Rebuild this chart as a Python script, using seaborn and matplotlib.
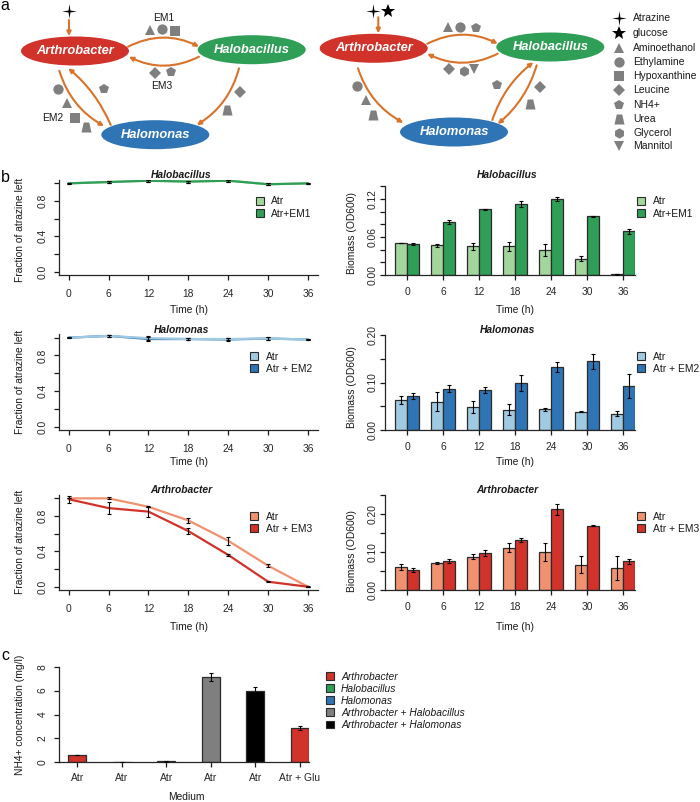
#!/usr/bin/env python3
"""Atrazine degradation figure: schematic (a), time courses (b), NH4+ bars (c)."""
from matplotlib import pyplot as plt
from matplotlib.patches import Ellipse, FancyArrowPatch, Patch
from matplotlib.path import Path
import numpy as np
import pandas as pd
import seaborn as sns

W, H = 700, 802

TIME = [0, 6, 12, 18, 24, 30, 36]

# panel b, fraction of atrazine left
halobacillus_atr = [1.0, 1.015, 1.03, 1.02, 1.03, 0.99, 1.0]
halobacillus_em1 = [1.0, 1.015, 1.03, 1.02, 1.03, 0.99, 1.0]
halobacillus_left_err = [0.003, 0.012, 0.012, 0.012, 0.01, 0.012, 0.005]
halomonas_atr = [1.0, 1.02, 0.995, 0.985, 0.985, 0.99, 0.98]
halomonas_em2 = [1.0, 1.02, 0.985, 0.985, 0.98, 0.99, 0.98]
halomonas_left_err = [0.003, 0.012, 0.025, 0.015, 0.012, 0.02, 0.005]
arthrobacter_atr = [1.0, 1.0, 0.905, 0.75, 0.52, 0.238, 0.0]
arthrobacter_atr_err = [0.0, 0.012, 0.0, 0.025, 0.045, 0.015, 0.003]
arthrobacter_em3 = [0.99, 0.89, 0.85, 0.63, 0.36, 0.057, 0.0]
arthrobacter_em3_err = [0.04, 0.065, 0.065, 0.03, 0.008, 0.008, 0.002]

# panel b, biomass
bio_halobacillus_atr = [0.05, 0.047, 0.045, 0.045, 0.039, 0.026, 0.001]
bio_halobacillus_atr_err = [0.0, 0.0025, 0.005, 0.0075, 0.0092, 0.0045, 0.0005]
bio_halobacillus_em1 = [0.0495, 0.0837, 0.1037, 0.112, 0.12, 0.0926, 0.069]
bio_halobacillus_em1_err = [0.0015, 0.003, 0.0012, 0.005, 0.0035, 0.0012, 0.0035]
bio_halomonas_atr = [0.0625, 0.06, 0.048, 0.043, 0.0435, 0.038, 0.034]
bio_halomonas_atr_err = [0.0085, 0.02, 0.013, 0.012, 0.0025, 0.001, 0.005]
bio_halomonas_em2 = [0.0715, 0.087, 0.084, 0.0995, 0.1325, 0.1445, 0.092]
bio_halomonas_em2_err = [0.0065, 0.0075, 0.007, 0.017, 0.0105, 0.0165, 0.025]
bio_arthrobacter_atr = [0.062, 0.072, 0.088, 0.111, 0.10, 0.067, 0.058]
bio_arthrobacter_atr_err = [0.008, 0.003, 0.0065, 0.012, 0.023, 0.0225, 0.031]
bio_arthrobacter_em3 = [0.053, 0.077, 0.098, 0.131, 0.212, 0.169, 0.0755]
bio_arthrobacter_em3_err = [0.005, 0.0055, 0.008, 0.0055, 0.014, 0.0015, 0.0065]

# panel c
cultures = ["Arthrobacter", "Halobacillus", "Halomonas",
            "Arthrobacter + Halobacillus", "Arthrobacter + Halomonas",
            "Arthrobacter (Glu)"]
media = ["Atr", "Atr", "Atr", "Atr", "Atr", "Atr + Glu"]
nh4 = [0.6, 0.03, 0.07, 7.15, 6.0, 2.88]
nh4_err = [0.03, 0.02, 0.05, 0.35, 0.28, 0.18]

RED, GREEN, BLUE = "#d1322a", "#2f9e57", "#2f75b5"
RED_L, GREEN_L, BLUE_L = "#f0916f", "#a3d69d", "#a0cae1"
ORANGE = "#d9722a"
GREY = "#7f7f7f"
EDGE = "#2b2b2b"
FS = 7.4

sns.set_theme(style="ticks")
plt.rcParams["font.family"] = ["Liberation Sans", "DejaVu Sans"]
plt.rcParams["font.size"] = FS
plt.rcParams["text.color"] = "#1a1a1a"
plt.rcParams["axes.linewidth"] = 0.9

fig = plt.figure(figsize=(W / 100, H / 100), dpi=100)


def box(x0, y0, x1, y1):
    """Make axes from pixel box, y counted from top."""
    return fig.add_axes([x0 / W, 1 - y1 / H, (x1 - x0) / W, (y1 - y0) / H])


def style_axes(ax, yticks, ylabels, ypad):
    """R like axes: only left and bottom, rotated y labels."""
    sns.despine(ax=ax)
    ax.set_yticks(yticks, ylabels, rotation=90, va="center", fontsize=FS)
    ax.tick_params(axis="y", length=3.8, width=0.9, pad=ypad, color="#1a1a1a")
    ax.tick_params(axis="x", length=3.8, width=0.9, labelsize=FS,
                   color="#1a1a1a")
    ax.set_xlabel("")
    ax.set_ylabel("")
    ax.patch.set_alpha(0)


def labels(xlabel, xpos, ylabel, ypos, title=None, title_pos=None):
    """Place axis labels and title at pixel positions."""
    fig.text(xpos[0] / W, 1 - xpos[1] / H, xlabel, ha="center", va="center",
             fontsize=FS)
    fig.text(ypos[0] / W, 1 - ypos[1] / H, ylabel, ha="center", va="center",
             rotation=90, fontsize=FS)
    if title:
        fig.text(title_pos[0] / W, 1 - title_pos[1] / H, title, ha="center",
                 va="center", fontsize=FS, style="italic", weight="bold")


def swatches(ax, x, y, names, colors, italic=False):
    """Legend with small boxes, no frame."""
    handles = [Patch(facecolor=c, edgecolor=EDGE, linewidth=0.8) for c in colors]
    leg = ax.legend(handles, names, loc="upper left", frameon=False,
                    bbox_to_anchor=(x / W, 1 - y / H),
                    bbox_transform=fig.transFigure, borderpad=0,
                    borderaxespad=0, handlelength=0.8, handleheight=0.7,
                    handletextpad=0.72, labelspacing=0.2, fontsize=FS)
    if italic:
        for t in leg.get_texts():
            t.set_style("italic")


def line_panel(rect, series, order, name, leg_x, leg_y, names, colors):
    """Fraction of atrazine left, lines with error bars."""
    ax = box(*rect)
    for i in order:
        vals, errs, col = series[i]
        sns.lineplot(x=TIME, y=vals, color=col, linewidth=1.6, ax=ax,
                     errorbar=None)
    for vals, errs, col in series:
        ax.errorbar(TIME, vals, yerr=errs, fmt="none", ecolor="black",
                    elinewidth=0.8, capsize=1.5, capthick=0.8, zorder=5)
    ax.set_xlim(-1.41, 37.5)
    ax.set_ylim(-0.04, 1.038)
    ax.set_xticks(TIME, [str(t) for t in TIME])
    style_axes(ax, [0, 0.2, 0.4, 0.6, 0.8, 1.0],
               ["0.0", "", "0.4", "", "0.8", ""], 4.4)
    ax.tick_params(axis="x", pad=6)
    swatches(ax, leg_x, leg_y, names, colors)
    return ax


def bar_panel(rect, atr, atr_err, em, em_err, ymax, yticks, ylabels, names,
              colors, leg_y):
    """Biomass, grouped bars with error bars."""
    ax = box(*rect)
    df = pd.DataFrame({"time": TIME * 2, "od": atr + em,
                       "kind": [names[0]] * 7 + [names[1]] * 7})
    sns.barplot(data=df, x="time", y="od", hue="kind", palette=colors,
                width=2 / 3, gap=0, saturation=1, edgecolor=EDGE, linewidth=0.9,
                errorbar=None, legend=False, ax=ax)
    for bars, errs in zip(ax.containers, (atr_err, em_err)):
        mids = [b.get_x() + b.get_width() / 2 for b in bars]
        tops = [b.get_height() for b in bars]
        ax.errorbar(mids, tops, yerr=errs, fmt="none", ecolor="black",
                    elinewidth=0.8, capsize=1.5, capthick=0.8, zorder=5)
    ax.set_xlim(-0.611, 6.33)
    ax.set_ylim(0, ymax)
    style_axes(ax, yticks, ylabels, 1.6)
    ax.tick_params(axis="x", pad=4.5)
    swatches(ax, 637, leg_y, names, colors)
    return ax


# panel b, left column
line_panel((59.3, 180, 318, 275.3),
           [(halobacillus_atr, halobacillus_left_err, GREEN_L),
            (halobacillus_em1, halobacillus_left_err, GREEN)], [0, 1],
           "Halobacillus", 255.5, 196.5, ["Atr", "Atr+EM1"], [GREEN_L, GREEN])
line_panel((59.3, 334.3, 318, 430.3),
           [(halomonas_atr, halomonas_left_err, BLUE_L),
            (halomonas_em2, halomonas_left_err, BLUE)], [1, 0],
           "Halomonas", 250, 351.5, ["Atr", "Atr + EM2"], [BLUE_L, BLUE])
line_panel((59.3, 495, 318, 590.3),
           [(arthrobacter_atr, arthrobacter_atr_err, RED_L),
            (arthrobacter_em3, arthrobacter_em3_err, RED)], [0, 1],
           "Arthrobacter", 250, 511.5, ["Atr", "Atr + EM3"], [RED_L, RED])

# panel b, right column
bar_panel((385, 186.3, 635, 275), bio_halobacillus_atr, bio_halobacillus_atr_err,
          bio_halobacillus_em1, bio_halobacillus_em1_err, 0.14,
          [0, 0.02, 0.04, 0.06, 0.08, 0.10, 0.12, 0.14],
          ["0.00", "", "", "0.06", "", "", "0.12", ""],
          ["Atr", "Atr+EM1"], [GREEN_L, GREEN], 196.5)
bar_panel((385, 335, 635, 430), bio_halomonas_atr, bio_halomonas_atr_err,
          bio_halomonas_em2, bio_halomonas_em2_err, 0.20,
          [0, 0.05, 0.10, 0.15, 0.20], ["0.00", "", "0.10", "", "0.20"],
          ["Atr", "Atr + EM2"], [BLUE_L, BLUE], 351.5)
bar_panel((385, 494.7, 635, 590.3), bio_arthrobacter_atr, bio_arthrobacter_atr_err,
          bio_arthrobacter_em3, bio_arthrobacter_em3_err, 0.25,
          [0, 0.05, 0.10, 0.15, 0.20, 0.25],
          ["0.00", "", "0.10", "", "0.20", ""],
          ["Atr", "Atr + EM3"], [RED_L, RED], 511.5)

FRAC = "Fraction of atrazine left"
BIO = "Biomass (OD600)"
labels("Time (h)", (188.7, 310.3), FRAC, (20, 230), "Halobacillus", (181.3, 175))
labels("Time (h)", (188.7, 462.3), FRAC, (20, 382), "Halomonas", (181.7, 330))
labels("Time (h)", (188.7, 627), FRAC, (20, 542), "Arthrobacter", (181, 490))
labels("Time (h)", (515, 310.3), BIO, (352, 233), "Halobacillus", (507, 175))
labels("Time (h)", (515, 462.3), BIO, (352, 387), "Halomonas", (507.7, 330))
labels("Time (h)", (515, 627), BIO, (352, 551), "Arthrobacter", (507, 490))

# panel c
ax_c = box(59.3, 666.7, 308.7, 762.3)
c_colors = [RED, GREEN, BLUE, GREY, "black", RED]
sns.barplot(x=cultures, y=nh4, hue=cultures, palette=c_colors, width=0.4,
            saturation=1, edgecolor=EDGE, linewidth=0.9, errorbar=None,
            legend=False, ax=ax_c)
ax_c.errorbar(range(6), nh4, yerr=nh4_err, fmt="none", ecolor="black",
              elinewidth=0.8, capsize=1.5, capthick=0.8, zorder=5)
ax_c.set_xlim(-0.404, 5.2)
ax_c.set_ylim(0, 8)
ax_c.set_xticks(range(6), media)
style_axes(ax_c, [0, 2, 4, 6, 8], ["0", "2", "4", "6", "8"], 4.4)
ax_c.tick_params(axis="x", pad=4, labelsize=FS)
swatches(ax_c, 325.5, 671.5, cultures[:5], c_colors[:5], italic=True)
labels("Medium", (186.7, 797), "NH4+ concentration (mg/l)", (20, 715))

# panel a, schematic drawn in pixel coordinates
over = fig.add_axes([0, 0, 1, 1])
over.set_xlim(0, W)
over.set_ylim(H, 0)
over.axis("off")

STAR4 = Path([(0, 1), (0.13, 0.13), (1, 0), (0.13, -0.13), (0, -1),
              (-0.13, -0.13), (-1, 0), (-0.13, 0.13), (0, 1)], closed=True)
TRAP = Path([(-1, -1), (1, -1), (0.55, 1), (-0.55, 1), (-1, -1)], closed=True)
SHAPES = {"atrazine": (STAR4, 10.5, "black"), "glucose": ("*", 10.5, "black"),
          "amino": ("^", 7.6, GREY), "ethyl": ("o", 7.4, GREY),
          "hypo": ("s", 6.6, GREY), "leu": ("D", 6.4, GREY),
          "nh4": ("p", 7.8, GREY), "urea": (TRAP, 7.2, GREY),
          "gly": ("h", 7.4, GREY), "man": ("v", 7.6, GREY)}


def mark(kind, x, y):
    """Draw one compound symbol."""
    m, size, col = SHAPES[kind]
    over.plot([x], [y], marker=m, markersize=size, color=col, linestyle="none",
              markeredgewidth=0)


def cell(name, x, y, col):
    """Draw a species ellipse with its name."""
    over.add_patch(Ellipse((x, y), 108, 29, facecolor=col, edgecolor="none"))
    over.text(x, y, name, color="white", ha="center", va="center", fontsize=9.3,
              style="italic", weight="bold")


def arrow(a, b, rad=0.0):
    """Orange curved arrow from a to b."""
    over.add_patch(FancyArrowPatch(a, b, connectionstyle=f"arc3,rad={rad}",
                                   arrowstyle="-|>", mutation_scale=6,
                                   color=ORANGE, linewidth=1.5,
                                   shrinkA=0, shrinkB=0))


cell("Arthrobacter", 75, 51, RED)
cell("Halobacillus", 251.7, 49.7, GREEN)
cell("Halomonas", 155.3, 134.7, BLUE)
cell("Arthrobacter", 373.7, 48.3, RED)
cell("Halobacillus", 550.3, 47, GREEN)
cell("Halomonas", 454, 132, BLUE)

arrow((69, 20), (69, 36))
arrow((128, 46.7), (199, 46.7), -0.25)
arrow((199, 56.7), (129, 56.7), -0.25)
arrow((59.3, 70.7), (104, 126), 0.2)
arrow((110.7, 125), (68.3, 68.3), 0.12)
arrow((239, 68.3), (196.7, 125), -0.2)
arrow((378.3, 17.3), (378.3, 33.3))
arrow((427.3, 43.7), (497.7, 43.7), -0.25)
arrow((497.7, 53.7), (427.3, 53.7), -0.25)
arrow((358, 68.3), (403.3, 122.7), 0.2)
arrow((492.3, 120), (533.3, 62.3), -0.15)
arrow((536.7, 65.3), (497.7, 124), -0.15)

for kind, x, y in [("atrazine", 69, 10.7), ("amino", 150, 30), ("ethyl", 161.7, 29.3),
                   ("hypo", 175.3, 30.7), ("leu", 155.3, 72.7), ("nh4", 170.7, 71.7),
                   ("ethyl", 58.3, 89.3), ("amino", 67, 102.7), ("hypo", 74.7, 118),
                   ("urea", 86, 126.7), ("nh4", 104.3, 89.3), ("leu", 240.3, 91.7),
                   ("urea", 227, 110.3),
                   ("atrazine", 373.3, 10.7), ("glucose", 388.3, 11),
                   ("amino", 448, 27.3), ("ethyl", 460.3, 26.7), ("nh4", 476, 27.7),
                   ("leu", 449.3, 68.7), ("gly", 463.7, 71), ("man", 474.3, 69),
                   ("ethyl", 357, 86.3), ("amino", 365.7, 99.7), ("urea", 373.3, 115.3),
                   ("nh4", 497.3, 85.3), ("leu", 540, 87), ("urea", 530.3, 104)]:
    mark(kind, x, y)

for text, x, y in [("EM1", 163.7, 17.7), ("EM3", 162, 86), ("EM2", 53, 118)]:
    over.text(x, y, text, ha="center", va="center", fontsize=FS)

# compound key
key_names = ["Atrazine", "glucose", "Aminoethanol", "Ethylamine", "Hypoxanthine",
             "Leucine", "NH4+", "Urea", "Glycerol", "Mannitol"]
key_kinds = ["atrazine", "glucose", "amino", "ethyl", "hypo", "leu", "nh4", "urea",
             "gly", "man"]
key_rows = [18, 32.7, 48.3, 62.3, 76, 90.3, 105.3, 119.3, 133.3, 146.3]
for name, kind, y in zip(key_names, key_kinds, key_rows):
    mark(kind, 618.7, y)
    over.text(633, y, name, ha="left", va="center", fontsize=7.5)

for letter, x, y in [("a", 5, 6), ("b", 5, 178), ("c", 5, 655)]:
    over.text(x, y, letter, ha="center", va="center", fontsize=11.5, color="black")

fig.savefig("out.png", dpi=100)
